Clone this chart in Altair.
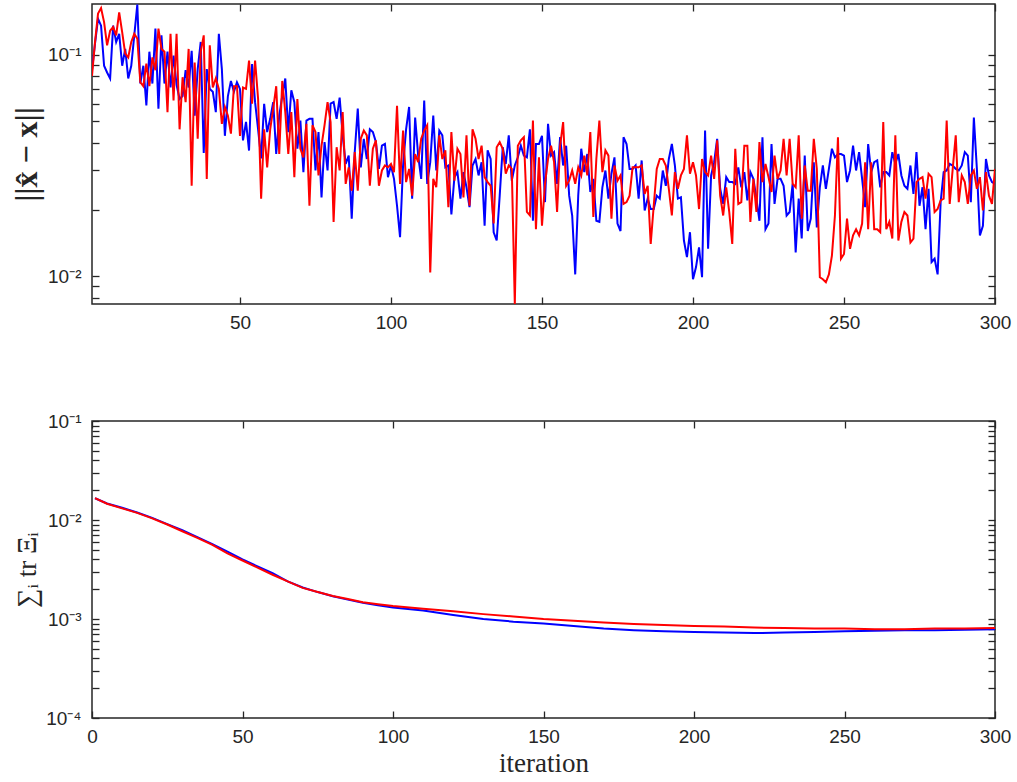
import altair as alt
import pandas as pd

# ---------------- data ----------------
iter_top = list(range(1, 301))

err_blue = [
    0.085, 0.112, 0.145, 0.135, 0.089, 0.083, 0.078, 0.135, 0.114, 0.124,
    0.089, 0.106, 0.078, 0.089, 0.122, 0.168, 0.074, 0.089, 0.059, 0.103,
    0.074, 0.131, 0.057, 0.122, 0.074, 0.103, 0.071, 0.099, 0.073, 0.063,
    0.065, 0.085, 0.071, 0.104, 0.053, 0.086, 0.114, 0.036, 0.086, 0.070,
    0.068, 0.055, 0.124, 0.086, 0.043, 0.065, 0.076, 0.068, 0.075, 0.070,
    0.041, 0.0497, 0.0369, 0.0905, 0.061, 0.046, 0.034, 0.060, 0.0447, 0.0513,
    0.061, 0.0356, 0.053, 0.065, 0.078, 0.0447, 0.069, 0.061, 0.0376, 0.0504,
    0.0295, 0.0504, 0.0513, 0.0513, 0.030, 0.0447, 0.0227, 0.0403, 0.030, 0.060,
    0.061, 0.0513, 0.064, 0.0432, 0.0321, 0.035, 0.0182, 0.0363, 0.057, 0.031,
    0.0417, 0.0338, 0.046, 0.0447, 0.0403, 0.0305, 0.0388, 0.0395, 0.028, 0.0316,
    0.0275, 0.0208, 0.015, 0.0316, 0.046, 0.058, 0.0224, 0.052, 0.035, 0.0275,
    0.062, 0.0261, 0.0327, 0.053, 0.030, 0.0454, 0.0432, 0.031, 0.0316, 0.019,
    0.028, 0.0295, 0.0224, 0.0295, 0.0252, 0.0205, 0.0316, 0.0338, 0.0285, 0.0327,
    0.0169, 0.037, 0.0338, 0.0158, 0.0145, 0.0231, 0.0382, 0.0321, 0.0432, 0.027,
    0.0316, 0.0344, 0.0388, 0.035, 0.0344, 0.046, 0.0178, 0.0395, 0.0395, 0.043,
    0.0216, 0.0487, 0.035, 0.0363, 0.0261, 0.0424, 0.0316, 0.0388, 0.0231, 0.0188,
    0.0102, 0.0231, 0.0376, 0.0295, 0.0356, 0.024, 0.0275, 0.0178, 0.0176, 0.0252,
    0.030, 0.0224, 0.029, 0.0344, 0.0173, 0.016, 0.0424, 0.0395, 0.0305, 0.0305,
    0.0316, 0.0224, 0.0333, 0.0198, 0.0224, 0.0201, 0.0201, 0.0231, 0.0224, 0.030,
    0.0256, 0.0338, 0.0395, 0.0316, 0.0224, 0.0227, 0.0145, 0.0122, 0.0158, 0.0097,
    0.0110, 0.0135, 0.0099, 0.0454, 0.0133, 0.0285, 0.0327, 0.0417, 0.0248, 0.0212,
    0.028, 0.0266, 0.0266, 0.0261, 0.031, 0.0252, 0.0295, 0.022, 0.0295, 0.0275,
    0.0224, 0.0178, 0.0424, 0.0163, 0.0173, 0.0395, 0.0212, 0.0275, 0.0275, 0.0256,
    0.0188, 0.0195, 0.0261, 0.0128, 0.0224, 0.0148, 0.035, 0.016, 0.0182, 0.0327,
    0.0166, 0.0252, 0.0316, 0.0248, 0.0305, 0.0376, 0.0344, 0.0356, 0.0356, 0.035,
    0.0266, 0.030, 0.0388, 0.030, 0.0363, 0.0275, 0.0205, 0.0395, 0.0295, 0.0327,
    0.0333, 0.0252, 0.0295, 0.0295, 0.0285, 0.0363, 0.0321, 0.0356, 0.0285, 0.0256,
    0.0248, 0.0316, 0.0235, 0.0363, 0.0208, 0.0252, 0.0163, 0.0248, 0.0116, 0.0120,
    0.0102, 0.0216, 0.0295, 0.030, 0.0321, 0.0316, 0.0305, 0.030, 0.0316, 0.0363,
    0.035, 0.0216, 0.052, 0.0305, 0.0153, 0.0169, 0.0338, 0.0285, 0.0266, 0.0261,
]

err_red = [
    0.080, 0.114, 0.153, 0.162, 0.140, 0.110, 0.128, 0.133, 0.122, 0.155,
    0.126, 0.101, 0.097, 0.114, 0.124, 0.118, 0.075, 0.072, 0.091, 0.072,
    0.097, 0.085, 0.131, 0.106, 0.103, 0.055, 0.124, 0.062, 0.124, 0.046,
    0.079, 0.061, 0.106, 0.0256, 0.092, 0.0417, 0.103, 0.122, 0.0275, 0.110,
    0.071, 0.078, 0.070, 0.0487, 0.058, 0.053, 0.044, 0.072, 0.072, 0.043,
    0.071, 0.070, 0.094, 0.060, 0.094, 0.063, 0.0224, 0.046, 0.031, 0.046,
    0.057, 0.072, 0.0356, 0.076, 0.055, 0.0356, 0.055, 0.028, 0.063, 0.0376,
    0.0344, 0.0487, 0.0208, 0.048, 0.0447, 0.0285, 0.0388, 0.048, 0.061, 0.0496,
    0.0176, 0.0382, 0.030, 0.055, 0.0261, 0.031, 0.0243, 0.0363, 0.0243, 0.0417,
    0.0454, 0.0432, 0.0256, 0.0376, 0.041, 0.0256, 0.030, 0.0316, 0.031, 0.0321,
    0.0295, 0.0588, 0.0261, 0.0454, 0.0266, 0.0305, 0.0231, 0.0356, 0.0327, 0.0417,
    0.0454, 0.048, 0.0104, 0.0275, 0.0252, 0.0432, 0.0338, 0.037, 0.0205, 0.0447,
    0.027, 0.0376, 0.0356, 0.0227, 0.0432, 0.0208, 0.046, 0.0417, 0.0338, 0.0388,
    0.028, 0.0266, 0.0256, 0.0173, 0.0382, 0.0403, 0.0376, 0.029, 0.0316, 0.0305,
    0.0075, 0.0388, 0.041, 0.0424, 0.0195, 0.0188, 0.0504, 0.0163, 0.0344, 0.0169,
    0.0261, 0.0338, 0.0388, 0.0327, 0.0195, 0.0388, 0.0496, 0.0256, 0.027, 0.030,
    0.0261, 0.031, 0.0285, 0.035, 0.0285, 0.0447, 0.0185, 0.0338, 0.0504, 0.0295,
    0.037, 0.035, 0.0182, 0.0316, 0.027, 0.0285, 0.0212, 0.0216, 0.0231, 0.031,
    0.031, 0.031, 0.0316, 0.0235, 0.0256, 0.014, 0.0208, 0.0305, 0.0338, 0.0338,
    0.0316, 0.0248, 0.0188, 0.0295, 0.0248, 0.0285, 0.0305, 0.0432, 0.029, 0.0327,
    0.0285, 0.0201, 0.0338, 0.0295, 0.0285, 0.035, 0.0275, 0.041, 0.0231, 0.0188,
    0.0252, 0.0195, 0.014, 0.0376, 0.0212, 0.0216, 0.0388, 0.0388, 0.0176, 0.0275,
    0.0195, 0.0403, 0.0266, 0.0321, 0.028, 0.024, 0.035, 0.0275, 0.030, 0.0417,
    0.0285, 0.0417, 0.0261, 0.0252, 0.0432, 0.0182, 0.0316, 0.0243, 0.0243, 0.0417,
    0.0305, 0.0099, 0.0097, 0.0094, 0.0102, 0.0124, 0.0188, 0.0424, 0.012, 0.0126,
    0.0182, 0.0133, 0.0153, 0.0163, 0.0153, 0.0173, 0.0327, 0.0163, 0.0327, 0.0163,
    0.0163, 0.0158, 0.0496, 0.0163, 0.0176, 0.0148, 0.0432, 0.0145, 0.0176, 0.0195,
    0.0188, 0.0142, 0.0148, 0.0266, 0.0275, 0.028, 0.0224, 0.029, 0.028, 0.0195,
    0.0201, 0.022, 0.0224, 0.0504, 0.0212, 0.0305, 0.0432, 0.0216, 0.0285, 0.0266,
    0.0212, 0.0285, 0.030, 0.0248, 0.028, 0.0198, 0.0295, 0.0231, 0.0212, 0.0305,
]

iter_bot = [1, 5, 10, 15, 20, 25, 30, 35, 40, 45, 50, 55, 60, 65, 70, 75, 80, 85, 90, 95,
            100, 110, 120, 130, 140, 150, 160, 170, 180, 190, 200, 210, 220, 230, 240,
            250, 260, 270, 280, 290, 300]

tr_blue = [0.0166, 0.0147, 0.0133, 0.0119, 0.0105, 0.0091, 0.0079, 0.0067, 0.0057, 0.0048,
           0.0040, 0.0034, 0.0029, 0.0024, 0.00208, 0.00187, 0.00170, 0.00157, 0.00146, 0.00138,
           0.00131, 0.00122, 0.00110, 0.00100, 0.00094, 0.00090, 0.00085, 0.00080, 0.00077,
           0.00075, 0.00074, 0.00073, 0.00072, 0.00073, 0.00074, 0.00075, 0.00076, 0.00077,
           0.00077, 0.00078, 0.00079]

tr_red = [0.0166, 0.0146, 0.0131, 0.0118, 0.0104, 0.0090, 0.0077, 0.0066, 0.0056, 0.0046,
          0.0039, 0.0033, 0.0028, 0.0024, 0.00206, 0.00187, 0.00171, 0.00159, 0.00148, 0.00141,
          0.00135, 0.00127, 0.00120, 0.00112, 0.00106, 0.00100, 0.00096, 0.00092, 0.00089,
          0.00087, 0.00085, 0.00084, 0.00082, 0.00081, 0.00080, 0.00080, 0.00079, 0.00079,
          0.00080, 0.00080, 0.00081]

x_top_ticks = [50, 100, 150, 200, 250, 300]
x_bot_ticks = [0, 50, 100, 150, 200, 250, 300]
y_top_ticks = [0.008, 0.009, 0.01, 0.02, 0.03, 0.04, 0.05, 0.06, 0.07, 0.08, 0.09, 0.1]
y_bot_ticks = [0.0001, 0.0002, 0.0003, 0.0004, 0.0005, 0.0006, 0.0007, 0.0008, 0.0009,
               0.001, 0.002, 0.003, 0.004, 0.005, 0.006, 0.007, 0.008, 0.009,
               0.01, 0.02, 0.03, 0.04, 0.05, 0.06, 0.07, 0.08, 0.09, 0.1]

top_label_expr = "datum.value == 0.1 ? '10⁻¹' : (datum.value == 0.01 ? '10⁻²' : '')"
bot_label_expr = ("datum.value == 0.1 ? '10⁻¹' : (datum.value == 0.01 ? '10⁻²' : "
                  "(datum.value == 0.001 ? '10⁻³' : (datum.value == 0.0001 ? '10⁻⁴' : '')))")

BLUE = "#0000ff"
RED = "#ff0000"
INK = "#262626"
TICK = 7
W = 903

common = dict(tickSize=TICK, offset=-TICK, domain=False, grid=False,
              tickColor=INK, tickWidth=1.3)


def panel(df_b, df_r, xdom, ydom, xvals, yvals, lab_expr, ytitle, ybold, ysize, xtitle, h):
    xs = alt.Scale(domain=xdom, nice=False, zero=False)
    ys = alt.Scale(type="log", domain=ydom, nice=False)
    if xtitle:
        xb = alt.X("iteration:Q", scale=xs, title=xtitle,
                   axis=alt.Axis(orient="bottom", values=xvals, labelFlush=False,
                                 labelPadding=9, labelOverlap=False, format="d",
                                 titleFont="Liberation Serif", titleFontSize=27,
                                 titleFontWeight="normal", titlePadding=4, **common))
    else:
        xb = alt.X("iteration:Q", scale=xs, title=None,
                   axis=alt.Axis(orient="bottom", values=xvals, labelFlush=False,
                                 labelPadding=9, labelOverlap=False, format="d", **common))
    yb = alt.Y("value:Q", scale=ys, title=ytitle,
               axis=alt.Axis(orient="left", values=yvals, labelExpr=lab_expr,
                             labelPadding=11, labelOverlap=False,
                             titleFont="Liberation Serif", titleFontSize=ysize,
                             titleFontWeight="bold" if ybold else "normal",
                             titlePadding=4, **common))
    xr = alt.X("iteration:Q", scale=xs, title=None,
               axis=alt.Axis(orient="top", values=xvals, labels=False, **common))
    yr = alt.Y("value:Q", scale=ys, title=None,
               axis=alt.Axis(orient="right", values=yvals, labels=False, **common))
    blue = alt.Chart(df_b).mark_line(color=BLUE, strokeWidth=2, clip=True).encode(x=xb, y=yb)
    red = alt.Chart(df_r).mark_line(color=RED, strokeWidth=2, clip=True).encode(x=xr, y=yr)
    return (alt.layer(blue, red)
            .resolve_axis(x="independent", y="independent")
            .properties(width=W, height=h))


top = panel(pd.DataFrame({"iteration": iter_top, "value": err_blue}),
            pd.DataFrame({"iteration": iter_top, "value": err_red}),
            [1, 300], [0.0075, 0.169], x_top_ticks, y_top_ticks, top_label_expr,
            "||x̂ − x||", True, 32, None, 300)

bottom = panel(pd.DataFrame({"iteration": iter_bot, "value": tr_blue}),
               pd.DataFrame({"iteration": iter_bot, "value": tr_red}),
               [0, 300], [0.0001, 0.1], x_bot_ticks, y_bot_ticks, bot_label_expr,
               "∑ᵢ tr Ξᵢ", False, 27, "iteration", 297)

chart = (alt.vconcat(top, bottom, spacing=78)
         .properties(padding={"left": 9, "top": 2, "right": 5, "bottom": 2},
                     background="white")
         .configure_view(stroke=INK, strokeWidth=1.5)
         .configure_axis(labelFont="Liberation Sans", labelFontSize=19,
                         labelColor=INK, titleColor=INK))

chart.save("out.html", embed_options={"renderer": "svg", "actions": False})
